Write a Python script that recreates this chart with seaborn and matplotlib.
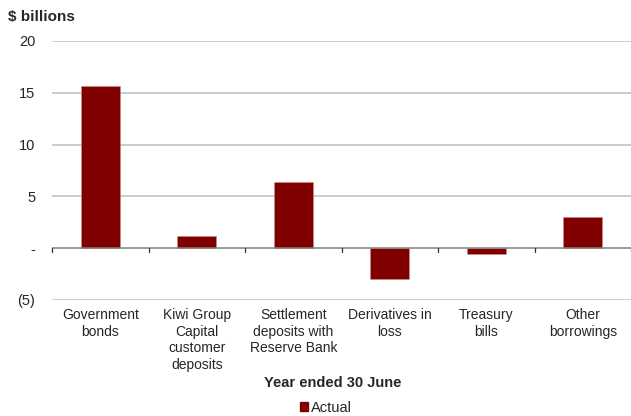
import matplotlib
matplotlib.use("Agg")
import matplotlib.pyplot as plt
import seaborn as sns
import numpy as np
from matplotlib.patches import Patch

categories = ["Government\nbonds", "Kiwi Group\nCapital\ncustomer\ndeposits",
              "Settlement\ndeposits with\nReserve Bank", "Derivatives in\nloss",
              "Treasury\nbills", "Other\nborrowings"]
values = [15.7, 1.2, 6.4, -3.0, -0.6, 3.0]
yticks = [-5, 0, 5, 10, 15, 20]
yticklabels = ["(5)", "-", "5", "10", "15", "20"]
series_name = "Actual"
bar_color = "#800000"

sns.set_style("white")
plt.rcParams["font.family"] = ["Liberation Sans", "DejaVu Sans"]

fig = plt.figure(figsize=(6.31, 4.16), dpi=100)
ax = fig.add_axes([52/631, 116/416, 579/631, 259/416])

sns.barplot(x=categories, y=values, color=bar_color, width=0.4, ax=ax,
            edgecolor="#c98a8a", linewidth=0.4, saturation=1)

ax.set_ylim(-5, 20)
ax.set_xlim(-0.5, len(categories) - 0.5)
ax.set_yticks(yticks)
ax.set_yticklabels(yticklabels, fontsize=10.5)
for y in yticks:
    if y != 0:
        ax.axhline(y, color="#bfbfbf", lw=1.1, zorder=0)
ax.axhline(0, color="#808080", lw=1.1, zorder=3)
bounds = np.arange(len(categories) + 1) - 0.5
for b in bounds:
    ax.plot([b, b], [0, -0.4], color="#303030", lw=0.9, zorder=3, clip_on=False)

for s in ax.spines.values():
    s.set_visible(False)
ax.tick_params(axis="y", length=0, pad=12)
ax.tick_params(axis="x", length=0, pad=6, labelsize=10)
for t in ax.get_xticklabels():
    t.set_linespacing(1.22)
ax.set_xlabel("")
ax.set_ylabel("")

fig.text(8/631, 1 - 17/416, "$ billions", fontsize=11, fontweight="bold", va="center", ha="left")
fig.text(333/631, 1 - 383/416, "Year ended 30 June", fontsize=10.5, fontweight="bold",
         va="center", ha="center")
fig.legend(handles=[Patch(color=bar_color, label=series_name)], loc="center",
           bbox_to_anchor=(326/631, 1 - 408/416), frameon=False, fontsize=10.5,
           handlelength=0.6, handleheight=0.6, handletextpad=0.2, borderpad=0)

fig.savefig("out.png", dpi=100)
